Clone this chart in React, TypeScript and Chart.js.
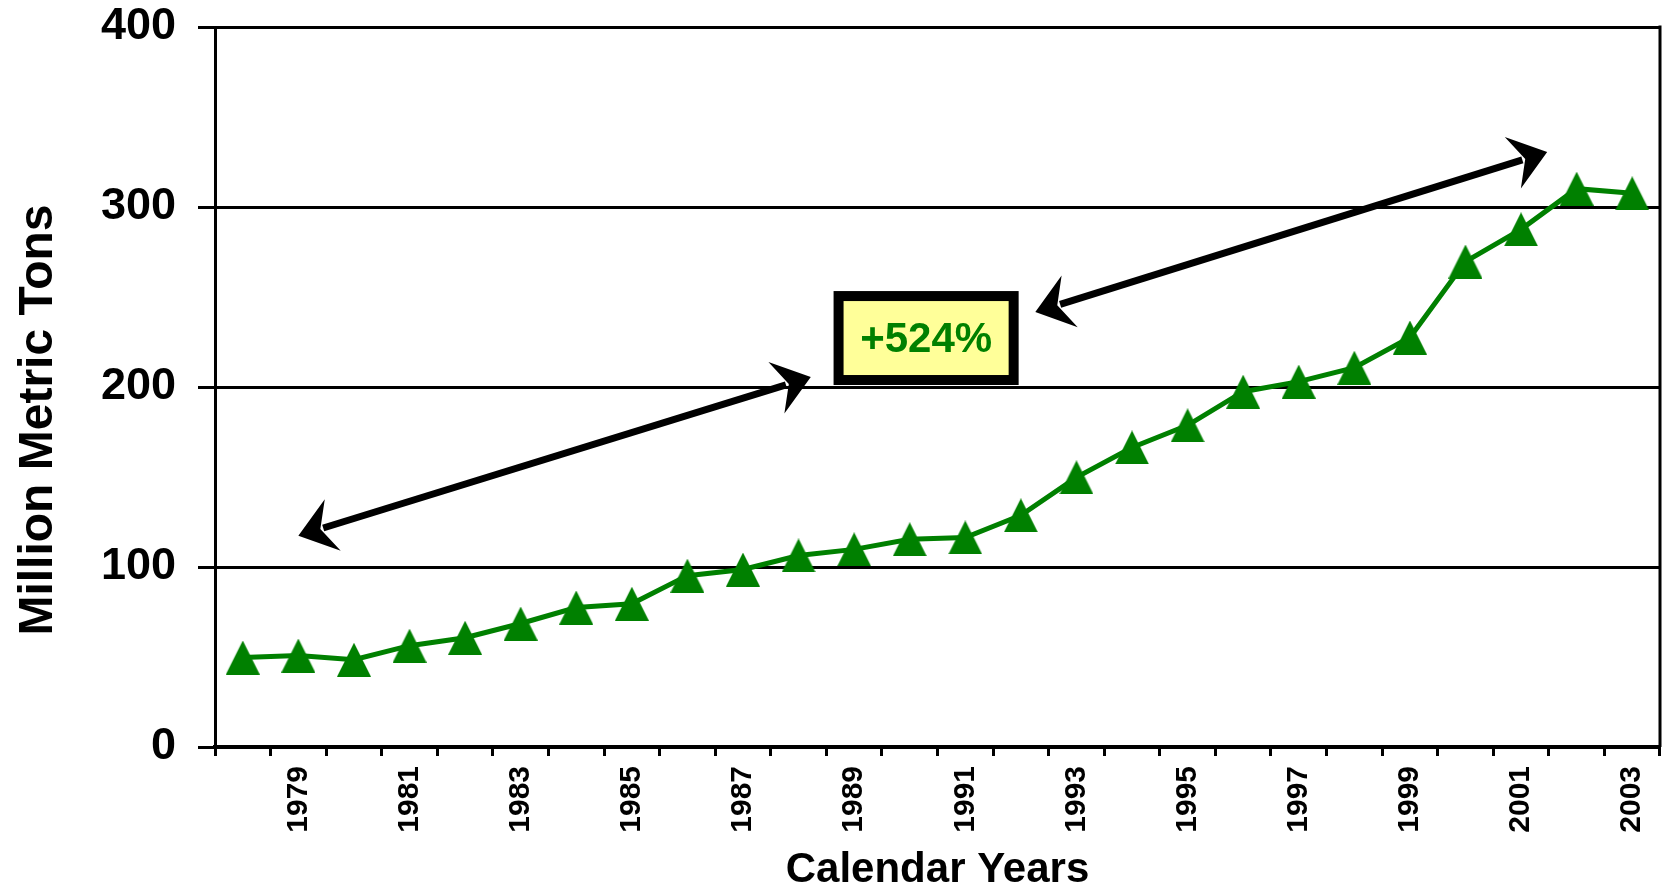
import React, { useEffect, useRef } from "react";
import { Chart, registerables } from "chart.js";

Chart.register(...registerables);

const years: string[] = [
  "1978", "1979", "1980", "1981", "1982", "1983", "1984", "1985", "1986",
  "1987", "1988", "1989", "1990", "1991", "1992", "1993", "1994", "1995",
  "1996", "1997", "1998", "1999", "2000", "2001", "2002", "2003",
];

const tonnage: number[] = [
  49.7, 50.8, 48.5, 56.3, 60.7, 68.6, 77.5, 79.6, 95.2, 98.6, 106.4, 109.8,
  115.4, 116.4, 128.7, 149.8, 166.4, 178.7, 197.4, 203.0, 210.7, 227.5,
  269.7, 287.6, 310.2, 307.6,
];

const yTicks: number[] = [0, 100, 200, 300, 400];

const yTitle = "Million Metric Tons";
const xTitle = "Calendar Years";
const changeLabel = "+524%";

// annotation anchors in data space: [categoryIndex, value]
const arrowLeft: [number, number][] = [[1.0, 117.4], [10.22, 205.5]];
const arrowRight: [number, number][] = [[14.26, 241.6], [23.47, 330.5]];
const boxCorners: [number, number][] = [[10.63, 253.3], [13.96, 201.1]];

const FONT = "'Liberation Sans', Arial, Helvetica, sans-serif";
const GREEN = "#008000";

function drawHead(ctx: CanvasRenderingContext2D, tx: number, ty: number, ux: number, uy: number) {
  const L = 36, W = 27, N = 23;
  const vx = -uy, vy = ux;
  ctx.beginPath();
  ctx.moveTo(tx, ty);
  ctx.lineTo(tx - ux * L + vx * W, ty - uy * L + vy * W);
  ctx.lineTo(tx - ux * N, ty - uy * N);
  ctx.lineTo(tx - ux * L - vx * W, ty - uy * L - vy * W);
  ctx.closePath();
  ctx.fill();
}

function drawDoubleArrow(ctx: CanvasRenderingContext2D, x1: number, y1: number, x2: number, y2: number) {
  const len = Math.hypot(x2 - x1, y2 - y1);
  const ux = (x2 - x1) / len, uy = (y2 - y1) / len;
  const n = 26;
  ctx.save();
  ctx.strokeStyle = "#000";
  ctx.fillStyle = "#000";
  ctx.lineWidth = 7;
  ctx.beginPath();
  ctx.moveTo(x1 + ux * n, y1 + uy * n);
  ctx.lineTo(x2 - ux * n, y2 - uy * n);
  ctx.stroke();
  drawHead(ctx, x2, y2, ux, uy);
  drawHead(ctx, x1, y1, -ux, -uy);
  ctx.restore();
}

const annotationPlugin = {
  id: "annotations",
  beforeDatasetsDraw(chart: any) {
    const ctx: CanvasRenderingContext2D = chart.ctx;
    const area = chart.chartArea;
    ctx.save();
    ctx.strokeStyle = "#000";
    ctx.lineWidth = 3;
    ctx.beginPath();
    ctx.moveTo(area.right, area.top - 1.5);
    ctx.lineTo(area.right, area.bottom);
    ctx.stroke();
    ctx.restore();
  },
  afterDatasetsDraw(chart: any) {
    const ctx: CanvasRenderingContext2D = chart.ctx;
    const xs = chart.scales.x;
    const ys = chart.scales.y;
    const px = (p: [number, number]) => [xs.getPixelForValue(p[0]), ys.getPixelForValue(p[1])];

    const a1 = arrowLeft.map(px);
    drawDoubleArrow(ctx, a1[0][0], a1[0][1], a1[1][0], a1[1][1]);
    const a2 = arrowRight.map(px);
    drawDoubleArrow(ctx, a2[0][0], a2[0][1], a2[1][0], a2[1][1]);

    const [b1, b2] = boxCorners.map(px);
    const bx = b1[0], by = b1[1], bw = b2[0] - b1[0], bh = b2[1] - b1[1];
    const bt = 10;
    ctx.save();
    ctx.fillStyle = "#000";
    ctx.fillRect(bx, by, bw, bh);
    ctx.fillStyle = "#FFFF99";
    ctx.fillRect(bx + bt, by + bt, bw - 2 * bt, bh - 2 * bt);
    ctx.fillStyle = GREEN;
    ctx.font = `bold 42px ${FONT}`;
    ctx.textAlign = "center";
    ctx.textBaseline = "middle";
    ctx.fillText(changeLabel, bx + bw / 2, by + bh / 2 + 2);
    ctx.restore();
  },
  afterDraw(chart: any) {
    const ctx: CanvasRenderingContext2D = chart.ctx;
    const area = chart.chartArea;
    ctx.save();
    ctx.translate(52, (area.top + area.bottom) / 2 + 33);
    ctx.rotate(-Math.PI / 2);
    ctx.font = `bold 48px ${FONT}`;
    ctx.fillStyle = "#000";
    ctx.textAlign = "center";
    ctx.textBaseline = "alphabetic";
    ctx.fillText(yTitle, 0, 0);
    ctx.restore();
  },
};

export default function App() {
  const canvasRef = useRef<HTMLCanvasElement | null>(null);

  useEffect(() => {
    if (!canvasRef.current) return;

    const tri = document.createElement("canvas");
    tri.width = 34;
    tri.height = 34;
    const tc = tri.getContext("2d")!;
    tc.fillStyle = GREEN;
    tc.beginPath();
    tc.moveTo(17, 0);
    tc.lineTo(34, 34);
    tc.lineTo(0, 34);
    tc.closePath();
    tc.fill();

    const chart = new Chart(canvasRef.current, {
      type: "line",
      data: {
        labels: years,
        datasets: [
          {
            data: tonnage,
            borderColor: GREEN,
            backgroundColor: GREEN,
            borderWidth: 5,
            tension: 0,
            pointStyle: tri as any,
            pointRadius: 17,
            pointHoverRadius: 17,
          },
        ],
      },
      options: {
        animation: false,
        responsive: false,
        devicePixelRatio: 1,
        events: [],
        layout: { autoPadding: false, padding: { top: 27, right: 4, left: 0, bottom: 0 } },
        plugins: {
          legend: { display: false },
          tooltip: { enabled: false },
          title: { display: false },
        },
        scales: {
          x: {
            type: "category",
            offset: true,
            grid: {
              display: true,
              offset: true,
              drawOnChartArea: false,
              drawTicks: true,
              tickLength: 9,
              tickWidth: 3,
              tickColor: "#000",
              color: "#000",
            },
            border: { display: true, color: "#000", width: 4 },
            ticks: {
              autoSkip: false,
              minRotation: 90,
              maxRotation: 90,
              padding: 10,
              color: "#000",
              font: { family: FONT, size: 30, weight: "bold", lineHeight: 0.6 },
              callback: (_v: any, i: number) => (Number(years[i]) % 2 === 1 ? years[i] : ""),
            },
            title: {
              display: true,
              text: xTitle,
              color: "#000",
              font: { family: FONT, size: 42, weight: "bold", lineHeight: 1 },
              padding: 0,
            },
            afterFit: (scale: any) => {
              scale.height = 144;
              scale.paddingLeft = 0;
              scale.paddingRight = 0;
            },
          },
          y: {
            min: 0,
            max: 400,
            afterBuildTicks: (scale: any) => {
              scale.ticks = yTicks.map((v) => ({ value: v }));
            },
            grid: {
              display: true,
              color: "#000",
              lineWidth: 3,
              drawTicks: true,
              tickLength: 17,
              tickWidth: 3,
              tickColor: "#000",
            },
            border: { display: true, color: "#000", width: 3 },
            ticks: {
              padding: 22,
              color: "#000",
              font: { family: FONT, size: 45, weight: "bold" },
            },
            afterFit: (scale: any) => {
              scale.width = 215;
              scale.paddingTop = 0;
              scale.paddingBottom = 0;
            },
          },
        },
      } as any,
      plugins: [annotationPlugin],
    });

    return () => chart.destroy();
  }, []);

  return (
    <div style={{ position: "fixed", left: 0, top: 0, width: 1664, height: 891, background: "#fff" }}>
      <canvas ref={canvasRef} width={1664} height={891} style={{ display: "block", width: 1664, height: 891 }} />
    </div>
  );
}
